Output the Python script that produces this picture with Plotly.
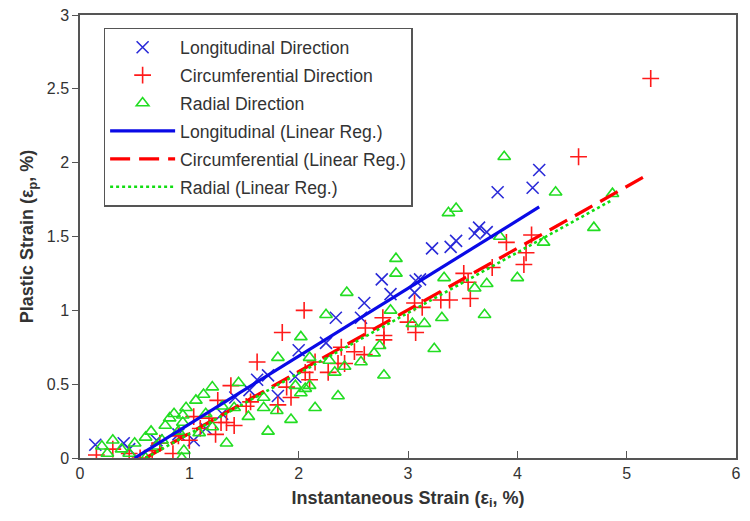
import plotly.graph_objects as go

# Longitudinal direction data
long_x = [0.14, 0.40, 0.45, 0.70, 0.90, 1.04, 1.15, 1.30, 1.42, 1.55, 1.62, 1.72, 1.81, 1.97,
          2.00, 2.25, 2.34, 2.57, 2.60, 2.76, 2.84, 3.06, 3.07, 3.11, 3.22, 3.39, 3.44, 3.61,
          3.65, 3.72, 3.82, 4.14, 4.20]
long_y = [0.09, 0.10, 0.06, 0.12, 0.16, 0.12, 0.20, 0.30, 0.41, 0.46, 0.53, 0.56, 0.42, 0.55,
          0.73, 0.78, 0.95, 0.95, 1.05, 1.21, 1.11, 1.12, 1.20, 1.21, 1.42, 1.43, 1.47, 1.52,
          1.56, 1.53, 1.80, 1.83, 1.95]

# Circumferential direction data
circ_x = [0.15, 0.30, 0.45, 0.55, 0.66, 0.73, 0.85, 0.90, 1.00, 1.04, 1.10, 1.18, 1.24, 1.29,
          1.34, 1.41, 1.26, 1.38, 1.52, 1.56, 1.62, 1.81, 1.85, 1.89, 1.93, 2.05, 2.06, 2.10,
          2.15, 2.27, 2.36, 2.42, 2.39, 2.51, 2.60, 2.61, 2.77, 2.78, 2.78, 3.00, 3.07, 3.06,
          3.13, 3.30, 3.38, 3.51, 3.55, 3.57, 3.77, 3.90, 4.06, 4.08, 4.13, 4.56, 5.22]
circ_y = [0.02, 0.06, 0.03, 0.00, 0.05, 0.10, 0.03, 0.15, 0.12, 0.28, 0.20, 0.27, 0.16, 0.24,
          0.24, 0.22, 0.39, 0.49, 0.35, 0.38, 0.65, 0.36, 0.85, 0.48, 0.41, 1.00, 0.58, 0.53,
          0.65, 0.58, 0.64, 0.64, 0.75, 0.72, 0.70, 0.88, 0.95, 0.83, 0.80, 0.92, 0.85, 1.05,
          1.02, 1.07, 1.07, 1.25, 1.19, 1.08, 1.29, 1.46, 1.31, 1.39, 1.51, 2.04, 2.57]

# Radial direction data
rad_x = [0.20, 0.25, 0.30, 0.38, 0.45, 0.50, 0.60, 0.60, 0.65, 0.70, 0.75, 0.78, 0.82, 0.86,
         0.90, 0.93, 0.95, 0.94, 0.94, 0.97, 1.06, 1.09, 1.13, 1.15, 1.21, 1.21, 1.30, 1.34,
         1.41, 1.45, 1.54, 1.68, 1.68, 1.72, 1.80, 1.81, 1.93, 1.97, 2.02, 2.02, 2.06, 2.10,
         2.10, 2.15, 2.25, 2.28, 2.33, 2.36, 2.42, 2.44, 2.57, 2.69, 2.74, 2.78, 2.84, 2.89,
         2.89, 3.04, 3.15, 3.24, 3.31, 3.33, 3.37, 3.44, 3.61, 3.72, 3.70, 3.84, 3.88, 4.00,
         4.24, 4.35, 4.70, 4.87]
rad_y = [0.08, 0.03, 0.12, 0.06, 0.03, 0.10, 0.00, 0.14, 0.18, 0.08, 0.12, 0.22, 0.27, 0.30,
         0.18, 0.00, 0.05, 0.24, 0.29, 0.34, 0.39, 0.17, 0.43, 0.30, 0.21, 0.48, 0.35, 0.10,
         0.34, 0.51, 0.28, 0.41, 0.34, 0.18, 0.32, 0.68, 0.26, 0.49, 0.82, 0.44, 0.47, 0.49,
         0.68, 0.34, 0.97, 0.66, 0.58, 0.42, 0.62, 1.12, 0.65, 0.71, 0.76, 0.56, 1.00, 1.25,
         1.35, 0.91, 0.91, 0.74, 0.95, 1.22, 1.66, 1.69, 1.15, 1.18, 0.97, 1.50, 2.04, 1.22,
         1.46, 1.80, 1.56, 1.79]

# Linear regression lines (endpoints)
long_reg_x = [0.50, 4.20]
long_reg_y = [0.00, 1.70]
circ_reg_x = [0.60, 5.22]
circ_reg_y = [0.00, 1.93]
rad_reg_x = [0.60, 4.85]
rad_reg_y = [0.00, 1.74]

BLUE = "#2a2ad8"
RED = "#ff1a1a"
GREEN = "#22dd22"
FONT = "Liberation Sans, Arial, sans-serif"

fig = go.Figure()

fig.add_trace(go.Scatter(x=long_x, y=long_y, mode="markers", name="Longitudinal Direction",
                         legendgroup="a",
                         marker=dict(symbol="x-thin-open", size=12, color=BLUE,
                                     line=dict(width=1.6, color=BLUE))))
fig.add_trace(go.Scatter(x=circ_x, y=circ_y, mode="markers", name="Circumferential Direction",
                         legendgroup="b",
                         marker=dict(symbol="cross-thin-open", size=12, color=RED,
                                     line=dict(width=1.6, color=RED))))
fig.add_trace(go.Scatter(x=rad_x, y=rad_y, mode="markers", name="Radial Direction",
                         legendgroup="c",
                         marker=dict(symbol="triangle-up-open", size=11, color=GREEN,
                                     line=dict(width=1.6, color=GREEN))))
fig.add_trace(go.Scatter(x=long_reg_x, y=long_reg_y, mode="lines", name="Longitudinal (Linear Reg.)",
                         legendgroup="d",
                         line=dict(color="#0a0ae6", width=3.2)))
fig.add_trace(go.Scatter(x=circ_reg_x, y=circ_reg_y, mode="lines", name="Circumferential (Linear Reg.)",
                         legendgroup="e",
                         line=dict(color="#ff0000", width=3.2, dash="20px,9px")))
fig.add_trace(go.Scatter(x=rad_reg_x, y=rad_reg_y, mode="lines", name="Radial (Linear Reg.)",
                         legendgroup="f",
                         line=dict(color="#11dd11", width=2.6, dash="dot")))

axis_common = dict(
    showline=True, linecolor="#555555", linewidth=1.5, mirror=True,
    showgrid=False, zeroline=False, automargin=False, ticklabeloverflow="allow",
    tickfont=dict(family=FONT, size=16, color="#333333"),
    tickcolor="#555555", tickwidth=1.3,
)

fig.update_xaxes(range=[0, 6], tickmode="array", tickvals=[0, 1, 2, 3, 4, 5, 6],
                 ticks="inside", ticklen=7,
                 title=dict(text="<b>Instantaneous Strain (ε<sub>i</sub>, %)</b>",
                            font=dict(family=FONT, size=18, color="#333333"), standoff=10),
                 **axis_common)
fig.update_yaxes(range=[0, 3], tickmode="array", tickvals=[0, 0.5, 1, 1.5, 2, 2.5, 3],
                 ticktext=["0", "0.5", "1", "1.5", "2", "2.5", "3"],
                 ticks="outside", ticklen=6,
                 title=dict(text="<b>Plastic Strain (ε<sub>p</sub>, %)</b>",
                            font=dict(family=FONT, size=18, color="#333333"), standoff=8),
                 **axis_common)

fig.update_layout(
    width=734, height=505,
    margin=dict(l=72, r=6, t=7, b=55),
    paper_bgcolor="white", plot_bgcolor="white",
    legend=dict(x=0.036, y=0.971, xanchor="left", yanchor="top",
                bgcolor="white", bordercolor="#555555", borderwidth=1.5,
                font=dict(family=FONT, size=17.6, color="#333333"),
                itemwidth=65, tracegroupgap=2, traceorder="grouped"),
    showlegend=True,
)

fig.write_html("out.html")
